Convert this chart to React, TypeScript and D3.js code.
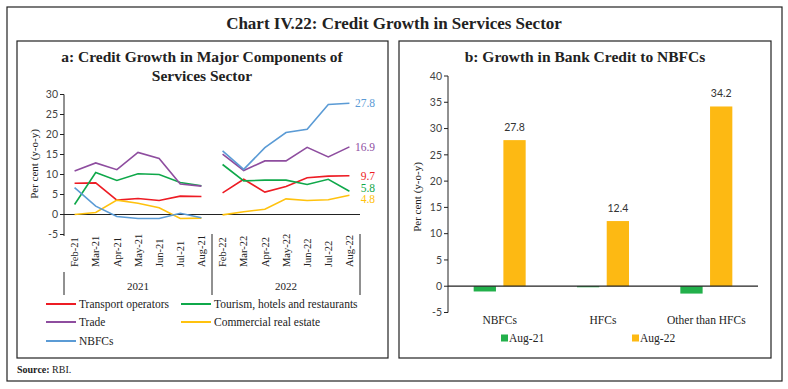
import React from 'react'
import * as d3 from 'd3'

// panel a: credit growth by services component (y-o-y, per cent)
const months = ['Feb', 'Mar', 'Apr', 'May', 'Jun', 'Jul', 'Aug']
const years = ['2021', '2022']
const categories = years.flatMap(y => months.map(m => `${m}-${y.slice(2)}`))

const transport = [7.8, 7.9, 3.6, 4.0, 3.5, 4.6, 4.5, 5.4, 8.8, 5.6, 7.0, 9.2, 9.6, 9.7]
const tourism = [2.5, 10.5, 8.5, 10.2, 10.0, 8.0, 7.2, 12.5, 8.4, 8.6, 8.6, 7.5, 8.8, 5.8]
const trade = [10.9, 12.9, 11.2, 15.5, 14.0, 7.6, 7.1, 15.1, 11.0, 13.4, 13.4, 16.8, 14.4, 16.9]
const realEstate = [0.0, 0.5, 3.6, 2.8, 1.7, -1.0, -0.9, -0.1, 0.7, 1.3, 3.9, 3.5, 3.7, 4.8]
const nbfcs = [6.7, 2.1, -0.5, -1.0, -1.0, 0.3, -0.8, 15.9, 11.3, 16.7, 20.5, 21.3, 27.5, 27.8]

const seriesA = [
  { name: 'Transport operators', color: '#ed1c24', values: transport },
  { name: 'Tourism, hotels and restaurants', color: '#0fa84a', values: tourism },
  { name: 'Trade', color: '#8e4d9f', values: trade },
  { name: 'Commercial real estate', color: '#ffc20e', values: realEstate },
  { name: 'NBFCs', color: '#5b9bd5', values: nbfcs },
]
const ticksA = [-5, 0, 5, 10, 15, 20, 25, 30]

// panel b: growth in bank credit to NBFCs
const groupsB = ['NBFCs', 'HFCs', 'Other than HFCs']
const periodsB = ['Aug-21', 'Aug-22']
const aug21 = [-1.0, -0.2, -1.4]
const aug22 = [27.8, 12.4, 34.2]
const ticksB = [-5, 0, 5, 10, 15, 20, 25, 30, 35, 40]
const colorsB = ['#22b04b', '#fdb913']

const serif = '"Liberation Serif", "DejaVu Serif", serif'
const sans = 'Lato, "Noto Sans", sans-serif'
const ink = '#222'

function PanelA() {
  const x = d3.scaleBand().domain(categories).range([64, 360])
  const y = d3.scaleLinear().domain([-5, 30]).range([234.5, 94.5])
  const cx = (i: number) => x(categories[i])! + x.bandwidth() / 2
  const line = d3.line<number>().x((_, i) => cx(i)).y(d => y(d))
  const segment = (vals: number[], g: number) =>
    line.x((_, i) => cx(g * 7 + i))(vals.slice(g * 7, g * 7 + 7))

  // end labels, nudged apart so they don't overlap
  const ends = seriesA.map(s => ({ ...s, v: s.values[13], ly: y(s.values[13]) }))
    .sort((a, b) => a.ly - b.ly)
  for (let k = 0; k < 5; k++) {
    for (let i = 1; i < ends.length; i++) {
      const gap = ends[i].ly - ends[i - 1].ly
      if (gap < 11) {
        const d = (11 - gap) / 2
        ends[i].ly += d
        ends[i - 1].ly -= d
      }
    }
  }

  const legendRows = [[0, 1], [2, 3], [4]]
  const dividers = [64, 212, 360]

  return <g>
    <text x={202} y={62} textAnchor="middle" fontFamily={serif} fontWeight="bold" fontSize={15.5} fill={ink}>
      a: Credit Growth in Major Components of
    </text>
    <text x={202} y={81} textAnchor="middle" fontFamily={serif} fontWeight="bold" fontSize={15.5} fill={ink}>
      Services Sector
    </text>
    <line x1={64} x2={64} y1={94.5} y2={236} stroke={ink} />
    {ticksA.map(t => <g key={t}>
      <line x1={60} x2={64} y1={y(t)} y2={y(t)} stroke={ink} />
      <text x={58} y={y(t)} dy="0.35em" textAnchor="end" fontFamily={sans} fontSize={10.5} fill="#444">{t}</text>
    </g>)}
    <text transform="translate(38,164) rotate(-90)" textAnchor="middle" fontFamily={serif} fontSize={11} fill={ink}>
      Per cent (y-o-y)
    </text>
    <line x1={64} x2={360} y1={y(0)} y2={y(0)} stroke={ink} strokeWidth={1.2} />
    {seriesA.map(s => <g key={s.name}>
      {[0, 1].map(g => <path key={g} d={segment(s.values, g)!} fill="none" stroke={s.color} strokeWidth={1.6} />)}
    </g>)}
    {ends.map(e => <text key={e.name} x={375} y={e.ly} dy="0.35em" textAnchor="end" fontFamily={serif} fontSize={11.5} fill={e.color}>
      {e.v.toFixed(1)}
    </text>)}
    {categories.map((c, i) => <text key={c} transform={`translate(${cx(i)},267) rotate(-90)`} dy="0.35em"
      fontFamily={serif} fontSize={10.5} fill={ink}>{c}</text>)}
    {dividers.map((d, i) => <line key={d} x1={d} x2={d} y1={i === 0 ? 272 : 234} y2={295} stroke={ink} />)}
    {years.map((yr, g) => <text key={yr} x={(dividers[g] + dividers[g + 1]) / 2} y={290} textAnchor="middle"
      fontFamily={serif} fontSize={11} fill={ink}>{yr}</text>)}
    {legendRows.map((row, r) => row.map((si, c) => {
      const lx = c === 0 ? 46 : 181
      const ly = [304, 322, 341][r]
      return <g key={si}>
        <line x1={lx} x2={lx + 30} y1={ly} y2={ly} stroke={seriesA[si].color} strokeWidth={2} />
        <text x={lx + 33} y={ly} dy="0.35em" fontFamily={serif} fontSize={11.5} fill={ink}>{seriesA[si].name}</text>
      </g>
    }))}
  </g>
}

function PanelB() {
  const x = d3.scaleBand().domain(groupsB).range([448, 758])
  const inner = d3.scaleBand().domain(periodsB).range([-26, 26]).paddingInner(0.25)
  const y = d3.scaleLinear().domain([-5, 40]).range([312.5, 76])
  const values = [aug21, aug22]
  const center = (g: string) => x(g)! + x.bandwidth() / 2

  return <g>
    <text x={585} y={62} textAnchor="middle" fontFamily={serif} fontWeight="bold" fontSize={15.5} fill={ink}>
      b: Growth in Bank Credit to NBFCs
    </text>
    <line x1={448} x2={448} y1={76} y2={y(-5)} stroke={ink} />
    {ticksB.map(t => <g key={t}>
      <line x1={444} x2={448} y1={y(t)} y2={y(t)} stroke={ink} />
      <text x={442} y={y(t)} dy="0.35em" textAnchor="end" fontFamily={sans} fontSize={10.5} fill="#444">{t}</text>
    </g>)}
    <text transform="translate(421,197) rotate(-90)" textAnchor="middle" fontFamily={serif} fontSize={11} fill={ink}>
      Per cent (y-o-y)
    </text>
    {groupsB.map((g, gi) => periodsB.map((p, pi) => {
      const v = values[pi][gi]
      const bx = center(g) + inner(p)!
      return <g key={g + p}>
        <rect x={bx} width={inner.bandwidth()} y={Math.min(y(v), y(0))} height={Math.abs(y(v) - y(0))} fill={colorsB[pi]} />
        {pi === 1 && <text x={bx + inner.bandwidth() / 2} y={y(v) - 9} textAnchor="middle" fontFamily={sans}
          fontSize={10.5} fill="#333">{v.toFixed(1)}</text>}
      </g>
    }))}
    <line x1={448} x2={758} y1={y(0)} y2={y(0)} stroke={ink} strokeWidth={1.2} />
    {groupsB.map(g => <text key={g} x={center(g)} y={320} dy="0.35em" textAnchor="middle" fontFamily={serif}
      fontSize={11.5} fill={ink}>{g}</text>)}
    {periodsB.map((p, i) => {
      const lx = [501, 632][i]
      return <g key={p}>
        <rect x={lx} y={334.5} width={7} height={7} fill={colorsB[i]} />
        <text x={lx + 8} y={338} dy="0.35em" fontFamily={serif} fontSize={11.5} fill={ink}>{p}</text>
      </g>
    })}
  </g>
}

export default function App() {
  return <svg width={788} height={389} style={{ position: 'absolute', left: 0, top: 0, background: '#fff' }}>
    <rect x={0} y={0} width={788} height={389} fill="#fff" />
    <rect x={7} y={7} width={775} height={374} fill="none" stroke={ink} strokeWidth={1.2} />
    <text x={394} y={29} textAnchor="middle" fontFamily={serif} fontWeight="bold" fontSize={17} fill={ink}>
      Chart IV.22: Credit Growth in Services Sector
    </text>
    <rect x={17} y={41} width={371} height={317} fill="none" stroke={ink} strokeWidth={1.2} />
    <rect x={399} y={41} width={372} height={317} fill="none" stroke={ink} strokeWidth={1.2} />
    <PanelA />
    <PanelB />
    <text x={17} y={373} fontFamily={serif} fontSize={10} fill={ink}>
      <tspan fontWeight="bold">Source: </tspan>RBI.
    </text>
  </svg>
}
